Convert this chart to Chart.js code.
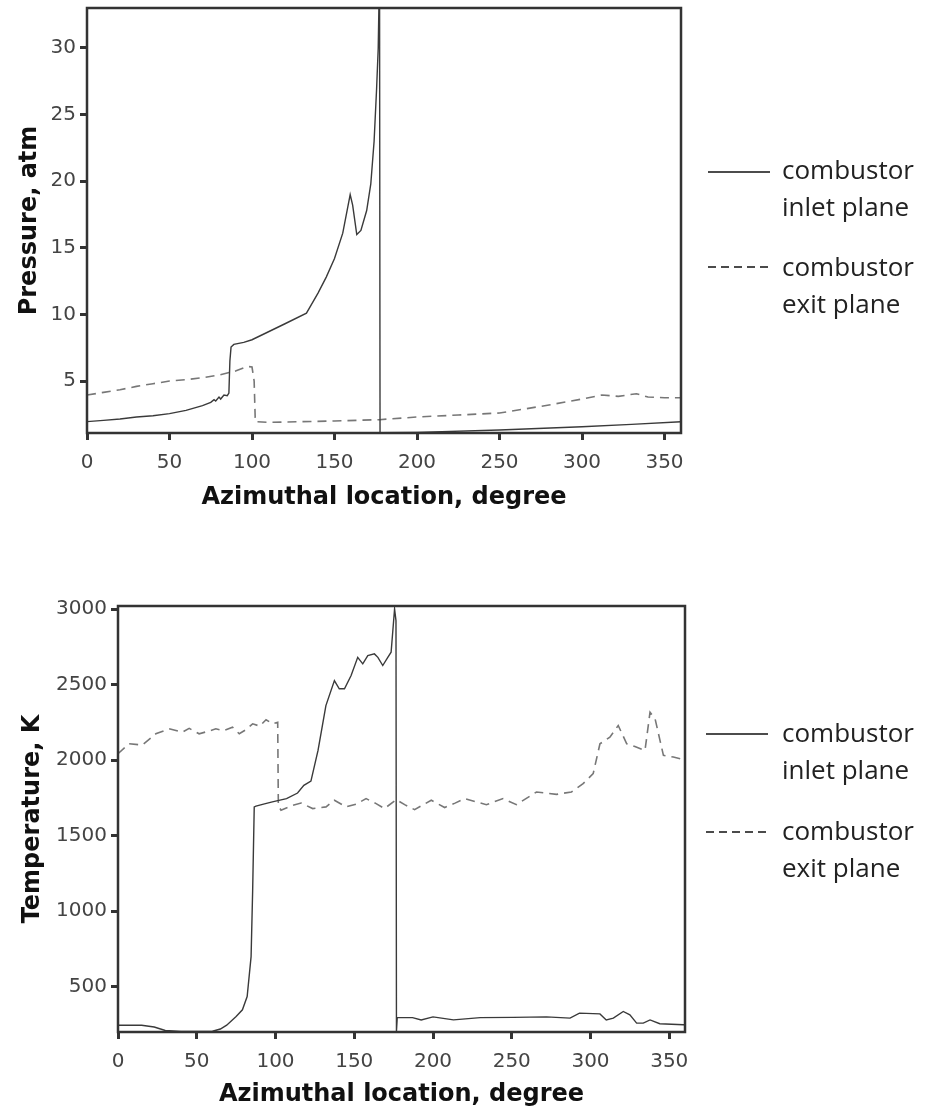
<!DOCTYPE html>
<html>
<head>
<meta charset="utf-8">
<script src="https://cdn.jsdelivr.net/npm/chart.js@4.4.0/dist/chart.umd.min.js"></script>
<style>
  body { margin: 0; background: #fff; width: 925px; height: 1109px; position: relative; overflow: hidden; }
  canvas { position: absolute; left: 0; }
  #pressureChart { top: 0; }
  #tempChart { top: 570px; }
  .legend-text { position: absolute; left: 782px; font-family: "Open Sans", sans-serif; font-size: 26px; line-height: 37px; color: #222; white-space: nowrap; }
  .legend-line { position: absolute; left: 706px; }
</style>
</head>
<body>
<canvas id="pressureChart" width="925" height="540"></canvas>
<canvas id="tempChart" width="925" height="539"></canvas>

<!-- legends -->
<svg class="legend-line" style="top:162px" width="66" height="20"><line x1="2" y1="10" x2="64" y2="10" stroke="#111" stroke-width="1.6"/></svg>
<div class="legend-text" style="top:151px">combustor<br>inlet plane</div>
<svg class="legend-line" style="top:257px" width="66" height="20"><line x1="2" y1="10" x2="64" y2="10" stroke="#111" stroke-width="1.6" stroke-dasharray="8,5"/></svg>
<div class="legend-text" style="top:248px">combustor<br>exit plane</div>

<svg class="legend-line" style="top:724px" width="66" height="20"><line x1="0" y1="10" x2="62" y2="10" stroke="#111" stroke-width="1.6"/></svg>
<div class="legend-text" style="top:714px">combustor<br>inlet plane</div>
<svg class="legend-line" style="top:822px" width="66" height="20"><line x1="0" y1="10" x2="62" y2="10" stroke="#111" stroke-width="1.6" stroke-dasharray="8,5"/></svg>
<div class="legend-text" style="top:812px">combustor<br>exit plane</div>

<script>
/* ---------- data ---------- */
const degTicks      = [0, 50, 100, 150, 200, 250, 300, 350];
const pressureTicks = [5, 10, 15, 20, 25, 30];
const tempTicks     = [500, 1000, 1500, 2000, 2500, 3000];

// pressure, combustor inlet plane (solid)
const pInletDeg = [0, 10, 20, 30, 40, 50, 60, 70, 75, 77, 78, 80, 81, 83, 85, 86, 86.6, 87.3, 89, 95, 100, 110, 120, 133, 140, 145, 150, 155, 159.5, 161, 163.5, 166, 169.5, 172, 174, 175.5, 176.5, 177.3, 177.6, 200, 250, 300, 330, 360];
const pInletAtm = [1.95, 2.05, 2.15, 2.3, 2.4, 2.55, 2.8, 3.15, 3.4, 3.6, 3.5, 3.8, 3.65, 3.95, 3.9, 4.1, 6.5, 7.55, 7.75, 7.9, 8.1, 8.7, 9.3, 10.1, 11.6, 12.8, 14.2, 16.1, 19.0, 18.2, 16.0, 16.3, 17.8, 19.8, 23.0, 26.9, 30, 36, 1.12, 1.15, 1.33, 1.57, 1.75, 1.95];

// pressure, combustor exit plane (dashed)
const pExitDeg = [0, 10, 20, 30, 40, 50, 60, 70, 80, 90, 97, 100, 101.3, 102, 110, 130, 150, 177, 200, 225, 250, 265, 280, 300, 312, 322, 333, 340, 350, 360];
const pExitAtm = [3.95, 4.15, 4.35, 4.6, 4.8, 5.0, 5.1, 5.25, 5.45, 5.75, 6.1, 6.05, 5.0, 1.95, 1.9, 1.95, 2.0, 2.1, 2.3, 2.45, 2.6, 2.9, 3.2, 3.65, 3.95, 3.85, 4.05, 3.8, 3.75, 3.75];

// temperature, combustor inlet plane (solid)
const tInletDeg = [0, 15, 23, 30, 40, 50, 60, 65, 69, 75, 79, 82, 84.5, 85.5, 86.5, 87.6, 93, 98, 107, 114, 118, 122.5, 127, 132, 137.4, 140.5, 143.8, 148, 152.2, 155.4, 158.6, 162.8, 165, 168.1, 171.3, 173.4, 175.6, 176.5, 176.8, 177.3, 187, 192.5, 200, 213, 230, 251, 272, 287, 293, 306, 310, 314.5, 320.8, 325, 329.3, 333.5, 337.8, 344, 359, 360];
const tInletK   = [245, 245, 233, 210, 203, 203, 205, 220, 245, 303, 347, 435, 699, 1139, 1690, 1695, 1710, 1723, 1745, 1782, 1833, 1861, 2064, 2361, 2526, 2472, 2472, 2560, 2680, 2637, 2692, 2703, 2680, 2626, 2680, 2714, 3000, 2923, 205, 295, 295, 280, 300, 280, 295, 297, 300, 292, 325, 320, 280, 292, 336, 314, 259, 259, 280, 255, 248, 248];

// temperature, combustor exit plane (dashed)
const tExitDeg = [0, 7, 15.5, 24, 32.4, 40.9, 45.2, 51.5, 57, 62.1, 67, 72.7, 77, 81, 85.5, 90, 94, 98.2, 101.4, 101.8, 103.5, 110.9, 116.2, 123.6, 132.1, 137.4, 144.8, 151.2, 157.5, 163.9, 169.2, 176.6, 182, 188.3, 198.9, 207.4, 214, 220.1, 233.9, 244.5, 253, 265.7, 278.4, 287.9, 295.3, 301.7, 306, 312.3, 317.6, 323, 328.2, 334.6, 337.8, 341, 346.3, 352.6, 360];
const tExitK   = [2042, 2108, 2100, 2174, 2207, 2185, 2210, 2174, 2190, 2207, 2195, 2218, 2174, 2200, 2240, 2225, 2267, 2240, 2250, 1700, 1668, 1700, 1716, 1679, 1690, 1734, 1690, 1708, 1745, 1712, 1679, 1738, 1705, 1672, 1734, 1686, 1715, 1745, 1705, 1745, 1705, 1789, 1773, 1789, 1844, 1910, 2108, 2152, 2229, 2108, 2090, 2064, 2317, 2273, 2031, 2020, 2002];

/* ---------- helpers ---------- */
const pts = (xs, ys) => xs.map((x, i) => ({ x: x, y: ys[i] }));

const framePlugin = {
  id: 'frame',
  afterDraw(chart) {
    const { ctx, chartArea: a } = chart;
    ctx.save();
    ctx.strokeStyle = '#333';
    ctx.lineWidth = 2.5;
    ctx.strokeRect(a.left, a.top, a.right - a.left, a.bottom - a.top);
    ctx.restore();
  },
};

function buildChart(id, cfg) {
  const tickFont  = { family: 'DejaVu Sans', size: 20 };
  const titleFont = { family: 'DejaVu Sans', size: 24, weight: 'bold' };
  const grid = { drawOnChartArea: false, drawTicks: true, tickLength: 7, tickWidth: 3, tickColor: '#333' };
  const plain = v => String(v);

  return new Chart(document.getElementById(id), {
    type: 'line',
    data: {
      datasets: [
        { data: cfg.inlet, borderColor: '#3a3a3a', borderWidth: 1.4 },
        { data: cfg.exit,  borderColor: '#777', borderWidth: 1.6, borderDash: [9, 6] },
      ],
    },
    options: {
      responsive: false,
      animation: false,
      parsing: false,
      elements: { point: { radius: 0 }, line: { tension: 0 } },
      layout: { padding: { top: cfg.top, right: cfg.right, left: 0, bottom: 0 } },
      plugins: { legend: { display: false }, tooltip: { enabled: false } },
      scales: {
        x: {
          type: 'linear', min: 0, max: 360,
          grid: grid, border: { display: false },
          afterBuildTicks: s => { s.ticks = degTicks.map(v => ({ value: v })); },
          afterFit: s => { s.height = cfg.xHeight; s.paddingLeft = 0; s.paddingRight = 0; },
          ticks: { font: tickFont, color: '#444', padding: 11, maxRotation: 0, callback: plain },
          title: { display: true, text: 'Azimuthal location, degree', font: titleFont, color: '#111', padding: { top: 0, bottom: cfg.xTitlePad } },
        },
        y: {
          type: 'linear', min: cfg.yMin, max: cfg.yMax,
          grid: grid, border: { display: false },
          afterBuildTicks: s => { s.ticks = cfg.yTicks.map(v => ({ value: v })); },
          afterFit: s => { s.width = cfg.yWidth; s.paddingTop = 0; s.paddingBottom = 0; },
          ticks: { font: tickFont, color: '#444', padding: 4, callback: plain },
          title: { display: true, text: cfg.yTitle, font: titleFont, color: '#111', padding: { top: cfg.yTitlePad, bottom: 0 } },
        },
      },
    },
    plugins: [framePlugin],
  });
}

buildChart('pressureChart', {
  inlet: pts(pInletDeg, pInletAtm),
  exit: pts(pExitDeg, pExitAtm),
  yMin: 1.1, yMax: 33, yTicks: pressureTicks,
  yTitle: 'Pressure, atm',
  top: 8, right: 244, yWidth: 87, xHeight: 107,
  xTitlePad: 28, yTitlePad: 15,
});

buildChart('tempChart', {
  inlet: pts(tInletDeg, tInletK),
  exit: pts(tExitDeg, tExitK),
  yMin: 200, yMax: 3020, yTicks: tempTicks,
  yTitle: 'Temperature, K',
  top: 36, right: 240, yWidth: 118, xHeight: 77,
  xTitlePad: 0, yTitlePad: 18,
});
</script>
</body>
</html>
